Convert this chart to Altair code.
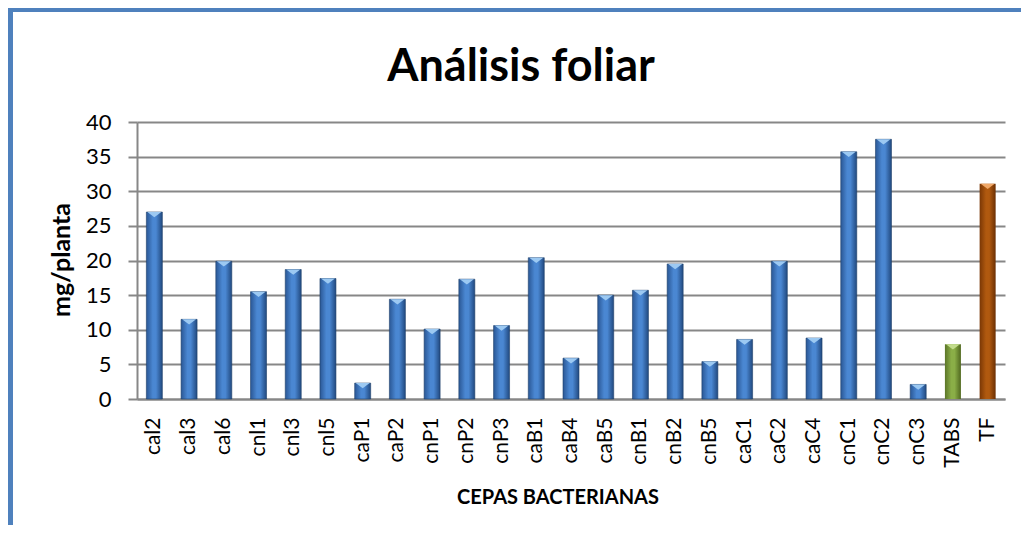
import altair as alt
import pandas as pd

categories = ["cal2", "cal3", "cal6", "cnl1", "cnl3", "cnl5", "caP1", "caP2", "cnP1",
              "cnP2", "cnP3", "caB1", "caB4", "caB5", "cnB1", "cnB2", "cnB5", "caC1",
              "caC2", "caC4", "cnC1", "cnC2", "cnC3", "TABS", "TF"]
values = [27.0, 11.5, 19.9, 15.5, 18.7, 17.4, 2.3, 14.4, 10.1,
          17.3, 10.6, 20.4, 5.9, 15.0, 15.7, 19.5, 5.4, 8.6,
          19.9, 8.8, 35.7, 37.5, 2.1, 7.9, 31.1]
groups = ["cepa"] * 23 + ["TABS", "TF"]
y_ticks = [0, 5, 10, 15, 20, 25, 30, 35, 40]

TITLE = "Análisis foliar"
Y_TITLE = "mg/planta"
X_TITLE = "CEPAS BACTERIANAS"

df = pd.DataFrame({"cat": categories, "val": values, "grp": groups})

FONT = "Lato"
GRID = "#878787"

W, H = 868, 277

xenc = alt.X("cat:N", sort=categories, title=None,
             scale=alt.Scale(paddingInner=0, paddingOuter=0),
             axis=alt.Axis(labelAngle=-90, labelFontSize=21, labelFont=FONT,
                           labelColor="#000000", tickSize=0, labelPadding=18,
                           domainColor=GRID, domainWidth=2, grid=False))
yenc = alt.Y("val:Q", title=None,
             scale=alt.Scale(domain=[0, 40], nice=False),
             axis=alt.Axis(values=y_ticks, labelFontSize=22, labelFont=FONT,
                           labelColor="#000000", tickSize=9, tickColor=GRID,
                           tickWidth=2, labelPadding=17, domainColor=GRID,
                           domainWidth=2, grid=True, gridColor=GRID, gridWidth=2))


def grad(edge1, mid, edge2):
    return alt.Gradient(gradient="linear", x1=0, x2=1, y1=0, y2=0,
                        stops=[alt.GradientStop(color=edge1, offset=0),
                               alt.GradientStop(color=mid, offset=0.4),
                               alt.GradientStop(color=mid, offset=0.6),
                               alt.GradientStop(color=edge2, offset=1)])


styles = {
    "cepa": (grad("#2a5795", "#4a87d2", "#21497f"), "#9cc9f2"),
    "TABS": (grad("#5b7528", "#8aae47", "#50681f"), "#c2dc8c"),
    "TF": (grad("#7a3705", "#b0590f", "#6b2f03"), "#f0a868"),
}

base = alt.Chart(df)
layers = []
for g, (fill, cap) in styles.items():
    sub = base.transform_filter(alt.datum.grp == g)
    layers.append(sub.mark_bar(fill=fill, width=16, stroke="#1f3f6a" if g == "cepa" else None,
                               strokeWidth=0.6 if g == "cepa" else 0).encode(x=xenc, y=yenc))
for g, (fill, cap) in styles.items():
    sub = base.transform_filter(alt.datum.grp == g)
    layers.append(sub.mark_point(shape="M-1,0L1,0L0,0.75Z", filled=True, size=196,
                                 color=cap, opacity=1, strokeWidth=0).encode(x=xenc, y=yenc))

one = alt.Chart(pd.DataFrame({"t": [TITLE], "yt": [Y_TITLE], "xt": [X_TITLE]}))
title = one.mark_text(font=FONT, fontSize=45, fontWeight="bold", color="#000000",
                      align="center", baseline="alphabetic").encode(
    text="t:N", x=alt.value(384), y=alt.value(-41))
ytitle = one.mark_text(font=FONT, fontSize=25, fontWeight="bold", color="#000000",
                       align="center", baseline="middle", angle=270).encode(
    text="yt:N", x=alt.value(-75), y=alt.value(138))
xtitle = one.mark_text(font=FONT, fontSize=20, fontWeight="bold", color="#000000",
                       align="center", baseline="middle").encode(
    text="xt:N", x=alt.value(421), y=alt.value(376))

BORDER = "#4f81bd"
bl = one.mark_rule(color=BORDER, strokeWidth=5).encode(
    x=alt.value(-126.5), y=alt.value(-115), y2=alt.value(403))
bt = one.mark_rule(color=BORDER, strokeWidth=5).encode(
    y=alt.value(-112.5), x=alt.value(-129), x2=alt.value(884))

chart = alt.layer(*layers, title, ytitle, xtitle, bl, bt).properties(
    width=W, height=H,
    autosize=alt.AutoSizeParams(type="none"),
    padding={"left": 129, "top": 114, "right": 16, "bottom": 126},
    background="#ffffff",
).configure_view(stroke=None)

chart.save("out.html", embed_options={"renderer": "svg", "actions": False})
